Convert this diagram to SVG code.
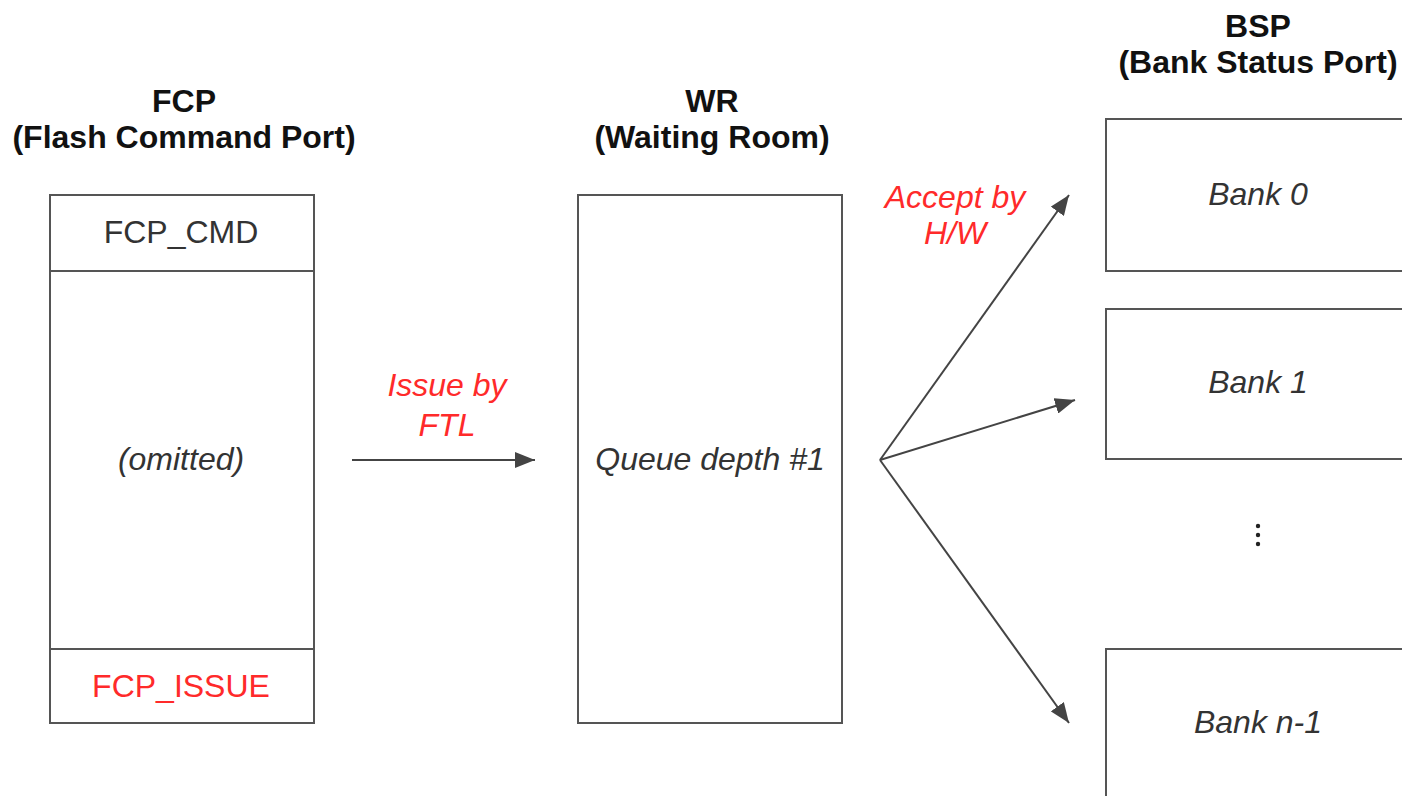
<svg xmlns="http://www.w3.org/2000/svg" width="1402" height="796" viewBox="0 0 1402 796">
<defs>
<style>
.box{fill:#fff;stroke:#555;stroke-width:2}
.t{font-family:"Liberation Sans",Arial,sans-serif;font-size:32px;fill:#333;text-anchor:middle}
.b{font-weight:bold;fill:#111}
.i{font-style:italic}
.r{fill:#ff2a2a}
.c{stroke:#444;stroke-width:2;fill:none}
</style>
<marker id="ah2" viewBox="0 0 20 16" refX="20" refY="8" markerWidth="20" markerHeight="16" markerUnits="userSpaceOnUse" orient="auto">
<path d="M0,0 L20,8 L0,16 z" fill="#444"/>
</marker>
</defs>
<rect width="1402" height="796" fill="#fff"/>
<g id="fcp">
<text class="t b" x="184" y="112">FCP</text>
<text class="t b" x="184" y="148">(Flash Command Port)</text>
<rect class="box" x="50" y="195" width="264" height="528"/>
<line class="box" x1="50" y1="271" x2="314" y2="271"/>
<line class="box" x1="50" y1="649" x2="314" y2="649"/>
<text class="t" x="181" y="243">FCP_CMD</text>
<text class="t i" x="181" y="470">(omitted)</text>
<text class="t r" x="181" y="697">FCP_ISSUE</text>
</g>
<g id="wr">
<text class="t b" x="712" y="112">WR</text>
<text class="t b" x="712" y="148">(Waiting Room)</text>
<rect class="box" x="578" y="195" width="264" height="528"/>
<text class="t i" x="710" y="470">Queue depth #1</text>
</g>
<g id="bsp">
<text class="t b" x="1258" y="37">BSP</text>
<text class="t b" x="1258" y="73">(Bank Status Port)</text>
</g>
<g id="bank0">
<rect class="box" x="1106" y="119" width="310" height="152"/>
<text class="t i" x="1258" y="205">Bank 0</text>
</g>
<g id="bank1">
<rect class="box" x="1106" y="309" width="310" height="150"/>
<text class="t i" x="1258" y="393">Bank 1</text>
</g>
<g id="dots">
<circle cx="1258" cy="526" r="2.2" fill="#222"/>
<circle cx="1258" cy="535" r="2.2" fill="#222"/>
<circle cx="1258" cy="544" r="2.2" fill="#222"/>
</g>
<g id="bankn">
<rect class="box" x="1106" y="649" width="310" height="160"/>
<text class="t i" x="1258" y="733">Bank n-1</text>
</g>
<g id="connectors">
<line class="c" x1="352" y1="460" x2="535" y2="460" marker-end="url(#ah2)"/>
<line class="c" x1="880" y1="460" x2="1069" y2="195" marker-end="url(#ah2)"/>
<line class="c" x1="880" y1="460" x2="1075" y2="400" marker-end="url(#ah2)"/>
<line class="c" x1="880" y1="460" x2="1069" y2="723" marker-end="url(#ah2)"/>
<text class="t i r" x="447" y="396">Issue by</text>
<text class="t i r" x="447" y="436">FTL</text>
<text class="t i r" x="955" y="208">Accept by</text>
<text class="t i r" x="955" y="244">H/W</text>
</g>
</svg>
